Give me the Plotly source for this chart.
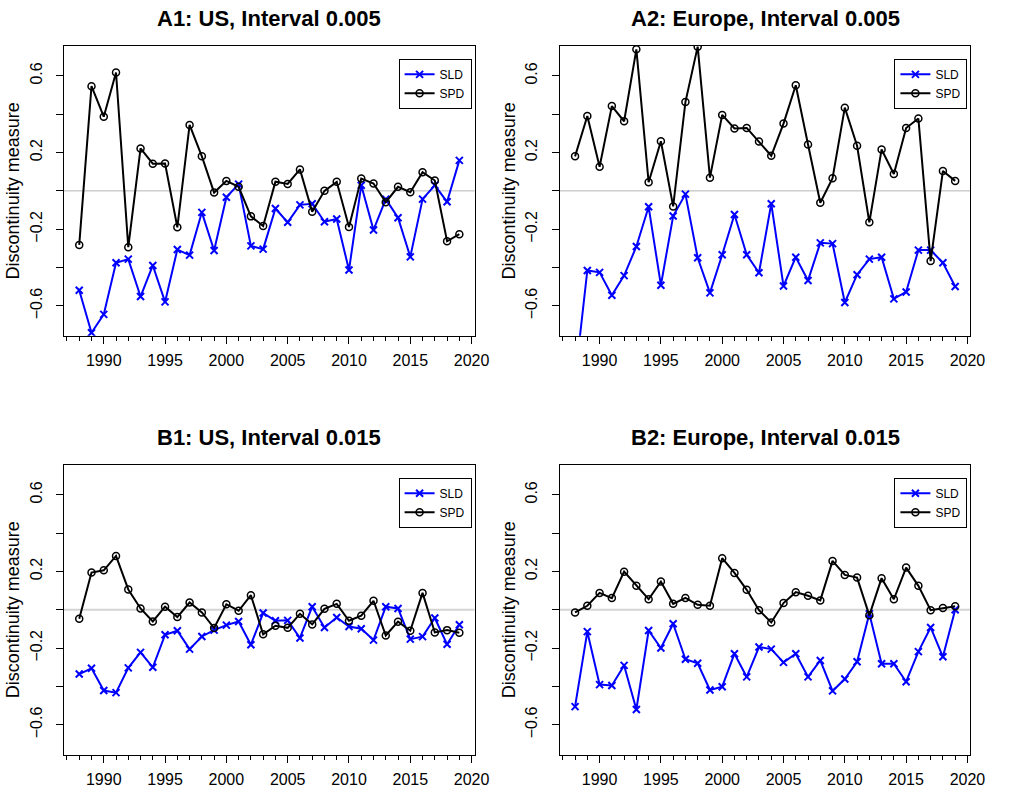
import plotly.graph_objects as go

years = list(range(1988, 2020))

a1_sld = [-0.518, -0.740, -0.644, -0.375, -0.356, -0.551, -0.389, -0.579, -0.306, -0.335,
          -0.112, -0.311, -0.033, 0.035, -0.287, -0.304, -0.092, -0.164, -0.073, -0.067,
          -0.161, -0.147, -0.413, 0.029, -0.204, -0.043, -0.140, -0.344, -0.043, 0.029,
          -0.057, 0.159]
a1_spd = [-0.282, 0.546, 0.387, 0.617, -0.294, 0.221, 0.142, 0.143, -0.190, 0.344,
          0.180, -0.009, 0.052, 0.021, -0.133, -0.183, 0.048, 0.036, 0.112, -0.109,
          0.000, 0.047, -0.188, 0.064, 0.038, -0.059, 0.021, -0.007, 0.097, 0.054,
          -0.263, -0.226]

a2_sld = [-0.985, -0.415, -0.425, -0.544, -0.442, -0.290, -0.083, -0.492, -0.131, -0.017,
          -0.349, -0.532, -0.333, -0.123, -0.333, -0.427, -0.067, -0.496, -0.346, -0.467,
          -0.271, -0.275, -0.582, -0.437, -0.356, -0.346, -0.563, -0.527, -0.309, -0.309,
          -0.375, -0.499]
a2_spd = [0.180, 0.390, 0.126, 0.442, 0.363, 0.738, 0.045, 0.259, -0.081, 0.463,
          0.752, 0.069, 0.396, 0.325, 0.328, 0.257, 0.183, 0.351, 0.551, 0.242,
          -0.062, 0.066, 0.434, 0.235, -0.164, 0.216, 0.088, 0.328, 0.377, -0.366,
          0.104, 0.052]

b1_sld = [-0.335, -0.305, -0.421, -0.432, -0.303, -0.222, -0.300, -0.130, -0.109, -0.205,
          -0.139, -0.106, -0.080, -0.061, -0.182, -0.017, -0.057, -0.055, -0.147, 0.016,
          -0.092, -0.040, -0.087, -0.099, -0.158, 0.016, 0.007, -0.153, -0.140, -0.043,
          -0.180, -0.078]
b1_spd = [-0.047, 0.194, 0.206, 0.281, 0.106, 0.007, -0.061, 0.016, -0.038, 0.038,
          -0.014, -0.095, 0.029, -0.005, 0.076, -0.128, -0.083, -0.094, -0.021, -0.076,
          0.005, 0.031, -0.057, -0.031, 0.047, -0.134, -0.062, -0.109, 0.088, -0.118,
          -0.106, -0.120]

b2_sld = [-0.505, -0.114, -0.390, -0.395, -0.290, -0.520, -0.108, -0.199, -0.073, -0.258,
          -0.279, -0.418, -0.401, -0.229, -0.350, -0.194, -0.205, -0.274, -0.229, -0.350,
          -0.264, -0.423, -0.361, -0.271, -0.021, -0.281, -0.281, -0.375, -0.218, -0.092,
          -0.245, 0.000]
b2_spd = [-0.014, 0.021, 0.088, 0.061, 0.199, 0.125, 0.055, 0.147, 0.031, 0.062,
          0.026, 0.021, 0.269, 0.192, 0.104, -0.002, -0.066, 0.035, 0.092, 0.073,
          0.049, 0.255, 0.182, 0.168, -0.029, 0.165, 0.055, 0.220, 0.125, -0.002,
          0.009, 0.019]

titles = ["A1: US, Interval 0.005", "A2: Europe, Interval 0.005",
          "B1: US, Interval 0.015", "B2: Europe, Interval 0.015"]
panels = [(a1_sld, a1_spd), (a2_sld, a2_spd), (b1_sld, b1_spd), (b2_sld, b2_spd)]
ytick_vals = [-0.6, -0.4, -0.2, 0.0, 0.2, 0.4, 0.6]
ytick_text = ["\u22120.6", "", "\u22120.2", "", "0.2", "", "0.6"]
xrange_ = [1986.76, 2020.24]
yrange_ = [-0.756, 0.756]

W, H = 1010, 788
FONT = "Liberation Sans, Arial, Helvetica, sans-serif"
# pixel boxes: (left, right, top, bottom)
boxes = [(65, 481.7, 46, 336.7), (568.3, 985, 46, 336.7),
         (65, 481.7, 466, 756.7), (568.3, 985, 466, 756.7)]

fig = go.Figure()
layout = dict(
    width=W, height=H, margin=dict(l=0, r=0, t=0, b=0),
    paper_bgcolor="white", plot_bgcolor="white",
    font=dict(family=FONT, color="black", size=16),
    showlegend=True, annotations=[], shapes=[],
)

for i, ((sld, spd), title, box) in enumerate(zip(panels, titles, boxes)):
    n = i + 1
    xa = "x" if n == 1 else f"x{n}"
    ya = "y" if n == 1 else f"y{n}"
    lg = "legend" if n == 1 else f"legend{n}"
    l, r, t, b = box
    fig.add_trace(go.Scatter(
        x=years, y=sld, mode="lines+markers", name="SLD",
        line=dict(color="#0000FF", width=2),
        marker=dict(symbol="x-thin", size=7, color="#0000FF",
                    line=dict(color="#0000FF", width=2)),
        xaxis=xa, yaxis=ya, legend=lg, cliponaxis=True))
    fig.add_trace(go.Scatter(
        x=years, y=spd, mode="lines+markers", name="SPD",
        line=dict(color="black", width=2),
        marker=dict(symbol="circle-open", size=7, color="black",
                    line=dict(color="black", width=1.5)),
        xaxis=xa, yaxis=ya, legend=lg, cliponaxis=True))

    xkey = "xaxis" if n == 1 else f"xaxis{n}"
    ykey = "yaxis" if n == 1 else f"yaxis{n}"
    layout[xkey] = dict(
        domain=[l / W, r / W], anchor=ya, range=xrange_,
        showgrid=False, zeroline=False, showline=True, mirror=True,
        linecolor="black", linewidth=1,
        ticks="outside", ticklen=7, tickcolor="black", tickwidth=1,
        tick0=1990, dtick=5,
        minor=dict(dtick=1, tick0=1990, ticks="outside", ticklen=4,
                   tickcolor="black", tickwidth=1, showgrid=False),
        tickfont=dict(size=16, family=FONT), ticklabelstandoff=3,
    )
    layout[ykey] = dict(
        domain=[1 - b / H, 1 - t / H], anchor=xa, range=yrange_,
        showgrid=False, zeroline=False, showline=True, mirror=True,
        linecolor="black", linewidth=1,
        ticks="outside", ticklen=7, tickcolor="black", tickwidth=1,
        tickmode="array", tickvals=ytick_vals, ticktext=ytick_text,
        tickangle=-90, tickfont=dict(size=16, family=FONT),
        ticklabelstandoff=8,
        title=dict(text="Discontinuity measure", font=dict(size=18, family=FONT),
                   standoff=3),
    )
    layout[lg] = dict(
        x=(r - 3) / W, y=1 - (t + 13) / H, xanchor="right", yanchor="top",
        xref="paper", yref="paper",
        bordercolor="black", borderwidth=1, bgcolor="white",
        font=dict(size=12, family=FONT), itemwidth=30, tracegroupgap=0,
    )
    layout["annotations"].append(dict(
        text=f"<b>{title}</b>", x=(l + r) / 2 / W, y=1 - (t - 27) / H,
        xref="paper", yref="paper", xanchor="center", yanchor="middle",
        showarrow=False, font=dict(size=22, family=FONT, color="black")))
    zero_color = "#b4b4b4" if n <= 2 else "#d4d4d4"
    zero_w = 1 if n <= 2 else 2
    layout["shapes"].append(dict(
        type="line", xref=f"{xa} domain", yref=ya, x0=0, x1=1, y0=0, y1=0,
        line=dict(color=zero_color, width=zero_w), layer="below"))

fig.update_layout(**layout)
fig.write_html("out.html")
